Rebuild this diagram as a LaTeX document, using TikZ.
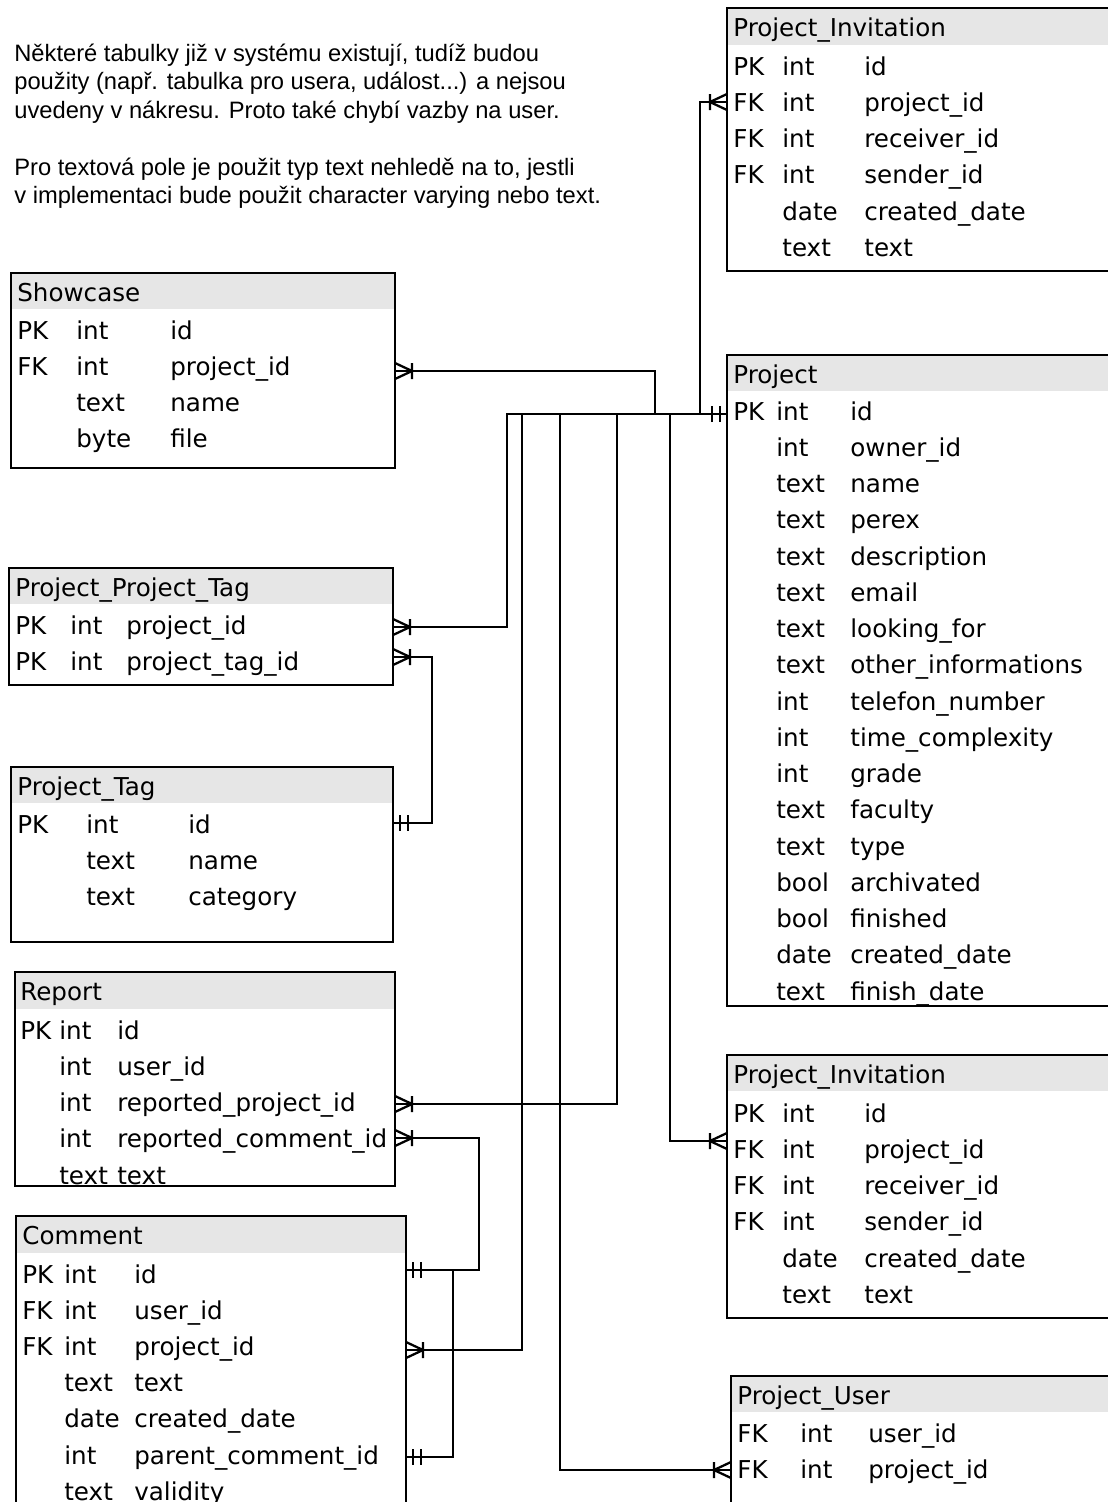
\documentclass[tikz,border=0pt]{standalone}
\usepackage{fontspec}
\newfontfamily\tablefont{DejaVu Sans}
\newfontfamily\notefont{Liberation Sans}
\definecolor{headgrey}{RGB}{230,230,230}

\tikzset{
  cell/.style={anchor=base west, inner sep=0pt, font=\tablefont\fontsize{14}{16}\selectfont},
  note/.style={anchor=base west, inner sep=0pt, font=\notefont\fontsize{13.5}{16}\selectfont},
  tbl/.style={line width=1.1pt},
  head/.style={fill=headgrey},
  conn/.style={line width=1.3pt},
  many/.pic={\draw[conn] (0,-8) -- (17,0) -- (0,8) (17,-8) -- (17,8);},
  one/.pic={\draw[conn] (7,-8) -- (7,8) (15,-8) -- (15,8);}
}

\begin{document}
\begin{tikzpicture}[x=0.02cm, y=-0.02cm]
        \useasboundingbox (0,0) rectangle (1108,1502);

        % note
        \node[note] (note1) at (14,61) {Některé tabulky již v systému existují, tudíž budou};
        \node[note] (note2) at (14,89.5) {použity (např. tabulka pro usera, událost...) a nejsou};
        \node[note] (note3) at (14,118) {uvedeny v nákresu. Proto také chybí vazby na user.};
        \node[note] (note4) at (14,175) {Pro textová pole je použit typ text nehledě na to, jestli};
        \node[note] (note5) at (14,203) {v implementaci bude použit character varying nebo text.};

        % Showcase
        \fill[head] (11,273) rectangle (395,309);
        \draw[tbl] (11,273) rectangle (395,468);
        \node[cell] (showcase) at (17,301) {Showcase};
        \foreach \k/\t/\n [count=\i] in {PK/int/id, FK/int/project\_id, /text/name, /byte/file} {
            \node[cell] (showcase-k\i) at (17,{339+36.3*(\i-1)}) {\k};
            \node[cell] (showcase-t\i) at (76,{339+36.3*(\i-1)}) {\t};
            \node[cell] (showcase-n\i) at (170,{339+36.3*(\i-1)}) {\n};
        }

        % Project_Project_Tag
        \fill[head] (9,568) rectangle (393,604);
        \draw[tbl] (9,568) rectangle (393,685);
        \node[cell] (ppt) at (15,596) {Project\_Project\_Tag};
        \foreach \k/\t/\n [count=\i] in {PK/int/project\_id, PK/int/project\_tag\_id} {
            \node[cell] (ppt-k\i) at (15,{634+36.3*(\i-1)}) {\k};
            \node[cell] (ppt-t\i) at (70,{634+36.3*(\i-1)}) {\t};
            \node[cell] (ppt-n\i) at (126,{634+36.3*(\i-1)}) {\n};
        }

        % Project_Tag
        \fill[head] (11,767) rectangle (393,803);
        \draw[tbl] (11,767) rectangle (393,942);
        \node[cell] (ptag) at (17,795) {Project\_Tag};
        \foreach \k/\t/\n [count=\i] in {PK/int/id, /text/name, /text/category} {
            \node[cell] (ptag-k\i) at (17,{833+36.3*(\i-1)}) {\k};
            \node[cell] (ptag-t\i) at (86,{833+36.3*(\i-1)}) {\t};
            \node[cell] (ptag-n\i) at (188,{833+36.3*(\i-1)}) {\n};
        }

        % Report
        \fill[head] (15,972) rectangle (395,1009);
        \draw[tbl] (15,972) rectangle (395,1186);
        \node[cell] (report) at (20,1000) {Report};
        \foreach \k/\t/\n [count=\i] in {PK/int/id, /int/user\_id, /int/reported\_project\_id, /int/reported\_comment\_id, /text/text} {
            \node[cell] (report-k\i) at (20,{1039+36.3*(\i-1)}) {\k};
            \node[cell] (report-t\i) at (59,{1039+36.3*(\i-1)}) {\t};
            \node[cell] (report-n\i) at (117,{1039+36.3*(\i-1)}) {\n};
        }

        % Comment
        \fill[head] (16,1216) rectangle (406,1253);
        \draw[tbl] (16,1520) -- (16,1216) -- (406,1216) -- (406,1520);
        \node[cell] (comment) at (22,1244) {Comment};
        \foreach \k/\t/\n [count=\i] in {PK/int/id, FK/int/user\_id, FK/int/project\_id, /text/text, /date/created\_date, /int/parent\_comment\_id, /text/validity} {
            \node[cell] (comment-k\i) at (22,{1283+36.2*(\i-1)}) {\k};
            \node[cell] (comment-t\i) at (64,{1283+36.2*(\i-1)}) {\t};
            \node[cell] (comment-n\i) at (134,{1283+36.2*(\i-1)}) {\n};
        }

        % Project_Invitation (top)
        \fill[head] (727,8) rectangle (1120,45);
        \draw[tbl] (1120,8) -- (727,8) -- (727,271) -- (1120,271);
        \node[cell] (pinv) at (733,36) {Project\_Invitation};
        \foreach \k/\t/\n [count=\i] in {PK/int/id, FK/int/project\_id, FK/int/receiver\_id, FK/int/sender\_id, /date/created\_date, /text/text} {
            \node[cell] (pinv-k\i) at (733,{75+36.3*(\i-1)}) {\k};
            \node[cell] (pinv-t\i) at (782,{75+36.3*(\i-1)}) {\t};
            \node[cell] (pinv-n\i) at (864,{75+36.3*(\i-1)}) {\n};
        }

        % Project
        \fill[head] (727,355) rectangle (1120,391);
        \draw[tbl] (1120,355) -- (727,355) -- (727,1006) -- (1120,1006);
        \node[cell] (project) at (733,383) {Project};
        \foreach \k/\t/\n [count=\i] in {PK/int/id, /int/owner\_id, /text/name, /text/perex, /text/description,
            /text/email, /text/looking\_for, /text/other\_informations, /int/telefon\_number, /int/time\_complexity,
            /int/grade, /text/faculty, /text/type, /bool/archivated, /bool/finished, /date/created\_date, /text/finish\_date} {
            \node[cell] (project-k\i) at (733,{420+36.25*(\i-1)}) {\k};
            \node[cell] (project-t\i) at (776,{420+36.25*(\i-1)}) {\t};
            \node[cell] (project-n\i) at (850,{420+36.25*(\i-1)}) {\n};
        }

        % Project_Invitation (bottom)
        \fill[head] (727,1055) rectangle (1120,1091);
        \draw[tbl] (1120,1055) -- (727,1055) -- (727,1318) -- (1120,1318);
        \node[cell] (pinv2) at (733,1083) {Project\_Invitation};
        \foreach \k/\t/\n [count=\i] in {PK/int/id, FK/int/project\_id, FK/int/receiver\_id, FK/int/sender\_id, /date/created\_date, /text/text} {
            \node[cell] (pinv2-k\i) at (733,{1122+36.3*(\i-1)}) {\k};
            \node[cell] (pinv2-t\i) at (782,{1122+36.3*(\i-1)}) {\t};
            \node[cell] (pinv2-n\i) at (864,{1122+36.3*(\i-1)}) {\n};
        }

        % Project_User
        \fill[head] (731,1376) rectangle (1120,1412);
        \draw[tbl] (1120,1376) -- (731,1376) -- (731,1520);
        \node[cell] (puser) at (737,1404) {Project\_User};
        \foreach \k/\t/\n [count=\i] in {FK/int/user\_id, FK/int/project\_id} {
            \node[cell] (puser-k\i) at (737,{1442+36.3*(\i-1)}) {\k};
            \node[cell] (puser-t\i) at (800,{1442+36.3*(\i-1)}) {\t};
            \node[cell] (puser-n\i) at (868,{1442+36.3*(\i-1)}) {\n};
        }

        % connector ends
        \coordinate (project-id) at (727,414);
        \coordinate (showcase-pid) at (395,371);
        \coordinate (ppt-pid) at (393,627);
        \coordinate (ppt-tid) at (393,657);
        \coordinate (ptag-id) at (393,823);
        \coordinate (report-pid) at (395,1104);
        \coordinate (report-cid) at (395,1138);
        \coordinate (comment-id) at (406,1270);
        \coordinate (comment-pid) at (406,1350);
        \coordinate (comment-par) at (406,1457);
        \coordinate (pinv-pid) at (727,102);
        \coordinate (pinv2-pid) at (727,1141);
        \coordinate (puser-pid) at (731,1470);

        % relations
        \draw[conn] (showcase-pid) -| (655,414) -- (project-id);
        \draw[conn] (ppt-pid) -| (507,414) -- (project-id);
        \draw[conn] (comment-pid) -| (522,414) -- (project-id);
        \draw[conn] (puser-pid) -| (560,414) -- (project-id);
        \draw[conn] (report-pid) -| (617,414) -- (project-id);
        \draw[conn] (pinv2-pid) -| (670,414) -- (project-id);
        \draw[conn] (pinv-pid) -| (700,414) -- (project-id);
        \draw[conn] (ppt-tid) -| (432,823) -- (ptag-id);
        \draw[conn] (report-cid) -| (479,1270) -- (comment-id);
        \draw[conn] (comment-par) -| (453,1270) -- (comment-id);

        \pic at (showcase-pid) {many};
        \pic at (ppt-pid) {many};
        \pic at (ppt-tid) {many};
        \pic at (report-pid) {many};
        \pic at (report-cid) {many};
        \pic at (comment-pid) {many};
        \pic[rotate=180] at (pinv-pid) {many};
        \pic[rotate=180] at (pinv2-pid) {many};
        \pic[rotate=180] at (puser-pid) {many};
        \pic[rotate=180] at (project-id) {one};
        \pic at (ptag-id) {one};
        \pic at (comment-id) {one};
        \pic at (comment-par) {one};
    \end{tikzpicture}
\end{document}
